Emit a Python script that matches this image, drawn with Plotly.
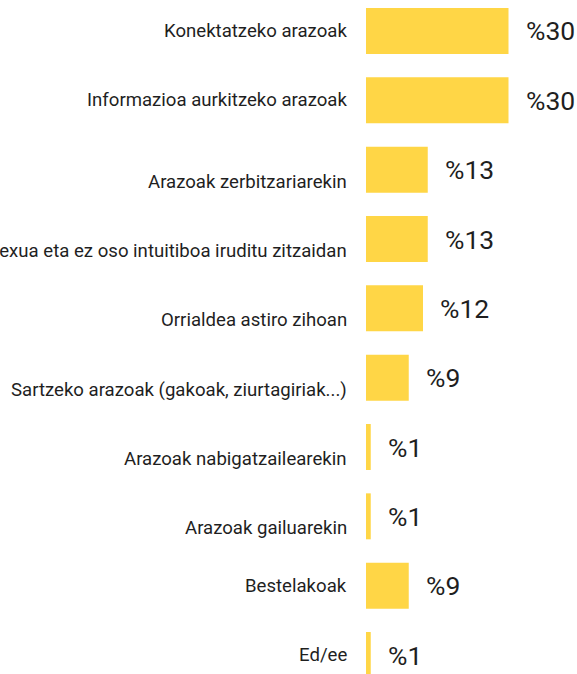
import plotly.graph_objects as go

categories = [
    "Konektatzeko arazoak",
    "Informazioa aurkitzeko arazoak",
    "Arazoak zerbitzariarekin",
    "Konplexua eta ez oso intuitiboa iruditu zitzaidan",
    "Orrialdea astiro zihoan",
    "Sartzeko arazoak (gakoak, ziurtagiriak...)",
    "Arazoak nabigatzailearekin",
    "Arazoak gailuarekin",
    "Bestelakoak",
    "Ed/ee",
]
values = [30, 30, 13, 13, 12, 9, 1, 1, 9, 1]
value_labels = ["%30", "%30", "%13", "%13", "%12", "%9", "%1", "%1", "%9", "%1"]
# labels rendered lower (as in the reference, where they sit below the bar centre)
lowered = {
    "Arazoak zerbitzariarekin",
    "Konplexua eta ez oso intuitiboa iruditu zitzaidan",
    "Orrialdea astiro zihoan",
    "Sartzeko arazoak (gakoak, ziurtagiriak...)",
    "Arazoak nabigatzailearekin",
    "Arazoak gailuarekin",
}

BAR = "#FFD646"
TXT = "#1f1f1f"
FONT = "Roboto"

fig = go.Figure(
    go.Bar(
        x=values,
        y=categories,
        orientation="h",
        marker=dict(color=BAR, line=dict(width=0)),
        hoverinfo="skip",
    )
)

annotations = []
for cat, v, lab in zip(categories, values, value_labels):
    annotations.append(dict(
        x=0, y=cat, xref="x", yref="y", text=cat, showarrow=False,
        xanchor="right", yanchor="middle", xshift=-17,
        yshift=-12 if cat in lowered else 0,
        font=dict(family=FONT, size=18.6, color=TXT),
    ))
    annotations.append(dict(
        x=v, y=cat, xref="x", yref="y", text=lab, showarrow=False,
        xanchor="left", yanchor="middle", xshift=15,
        font=dict(family=FONT, size=26.5, color=TXT),
    ))

W, H = 577, 674
fig.update_layout(
    width=W, height=H,
    margin=dict(l=366, r=21, t=0, b=0),
    paper_bgcolor="white", plot_bgcolor="white",
    bargap=0.337,
    showlegend=False,
    annotations=annotations,
    xaxis=dict(range=[0, 40], visible=False, fixedrange=True),
    yaxis=dict(
        type="category", categoryorder="array", categoryarray=categories,
        range=[9.274, -0.447], showticklabels=False, showgrid=False,
        zeroline=False, showline=False, ticks="", fixedrange=True,
    ),
)

fig.write_html(
    "out.html",
    config={"displayModeBar": False},
    post_script="document.body.style.margin='0';document.body.style.overflow='hidden';",
)
